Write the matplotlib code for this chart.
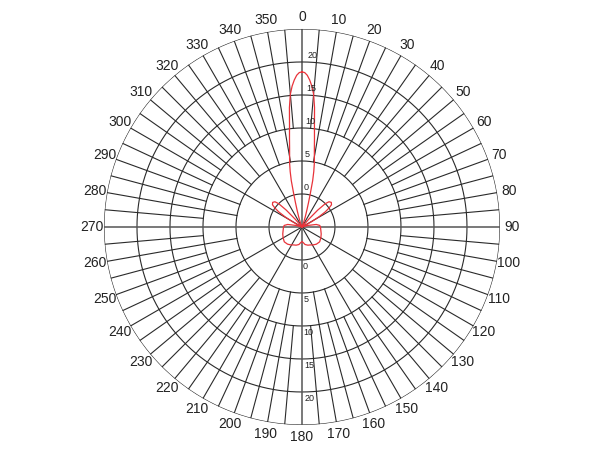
import numpy as np
import matplotlib
matplotlib.use("Agg")
import matplotlib.pyplot as plt

plt.rcParams['font.family'] = ['Liberation Sans', 'DejaVu Sans']

# radiation pattern (dB), compass angle in degrees
ang = [0, 1, 2, 3, 4, 5, 6, 7, 8, 9, 10, 11, 12, 13, 14, 15, 16, 18, 20, 23,
       38, 41, 43, 45, 47, 50, 53, 55, 57, 59, 61, 64, 68, 72, 76, 80, 85, 90,
       100, 110, 120, 130, 140, 148, 155, 162, 170, 175, 180,
       185, 190, 198, 205, 212, 220, 230, 240, 250, 260, 270, 275, 280, 284, 288,
       292, 296, 299, 301, 303, 305, 307, 310, 313, 315, 317, 319, 322,
       337, 340, 342, 344, 345, 346, 347, 348, 349, 350, 351, 352, 353, 354, 355, 356, 357, 358, 359, 360]
val = [18.5, 18.4, 18.0, 17.3, 16.4, 15.2, 13.2, 10.5, 8.6, 7.0, 5.8, 4.8, 3.6, 2.2, 0.2, -1.2, -2.2, -3.4, -4.3, -5.0,
       -5.0, -3.5, -1.5, 0.0, 0.6, 0.8, 0.6, 0.0, -0.8, -2.0, -3.3, -4.5, -5.0, -5.0, -4.0, -2.8, -2.3, -2.2,
       -2.1, -1.9, -1.7, -1.5, -1.6, -1.8, -2.0, -2.1, -2.3, -2.6, -2.8,
       -2.6, -2.3, -2.1, -2.0, -1.8, -1.6, -1.5, -1.7, -1.9, -2.1, -2.2, -2.3, -2.8, -4.0, -5.0,
       -5.0, -4.5, -3.3, -2.0, -0.8, 0.0, 0.6, 0.8, 0.6, 0.0, -1.5, -3.5, -5.0,
       -5.0, -4.3, -3.4, -2.2, -1.2, 0.2, 2.2, 3.6, 4.8, 5.8, 7.0, 8.6, 10.5, 13.2, 15.2, 16.4, 17.3, 18.0, 18.4, 18.5]

rings = [0, 5, 10, 15, 20, 25]
ring_labels = ['0', '5', '10', '15', '20']
angle_labels = [str(a) for a in range(0, 360, 10)]

fig = plt.figure(figsize=(6, 4.5), dpi=100)
ax = fig.add_axes([0.1733, 0.0556, 0.66, 0.88], projection='polar')
ax.set_theta_zero_location('N')
ax.set_theta_direction(-1)
ax.set_ylim(-5, 25)
ax.grid(False)
ax.set_xticks([])
ax.set_yticks([])
ax.spines['polar'].set_visible(False)

gc = '#2a2a2a'
th = np.radians(np.linspace(0, 360, 721))
for r in rings:
    ax.plot(th, np.full_like(th, r), color=gc, lw=0.8)

# spokes: 30 deg from centre, 10 deg from ring 5, 5 deg from ring 10
for a in range(0, 360, 5):
    t = np.radians(a)
    if a % 30 == 0:
        r0 = -5
    elif a % 10 == 0:
        r0 = 5
    else:
        r0 = 10
    lw = 1.1 if a % 90 == 0 else 0.8
    c = '#555555' if a % 90 == 0 else gc
    ax.plot([t, t], [r0, 25], color=c, lw=lw)

ax.plot(np.radians(ang), val, color='#e8333a', lw=0.9)

for i, lab in enumerate(angle_labels):
    ax.text(np.radians(i * 10), 26.8, lab, ha='center', va='center',
            fontsize=10, color='#222222', clip_on=False)

for r, lab in zip(rings, ring_labels):
    ax.text(np.radians(2.0), r + 0.35, lab, ha='left', va='bottom',
            fontsize=6.5, color='#222222')
    ax.text(np.radians(179.0), r + 0.35, lab, ha='left', va='top',
            fontsize=6.5, color='#222222')

fig.savefig('out.png', dpi=100)
